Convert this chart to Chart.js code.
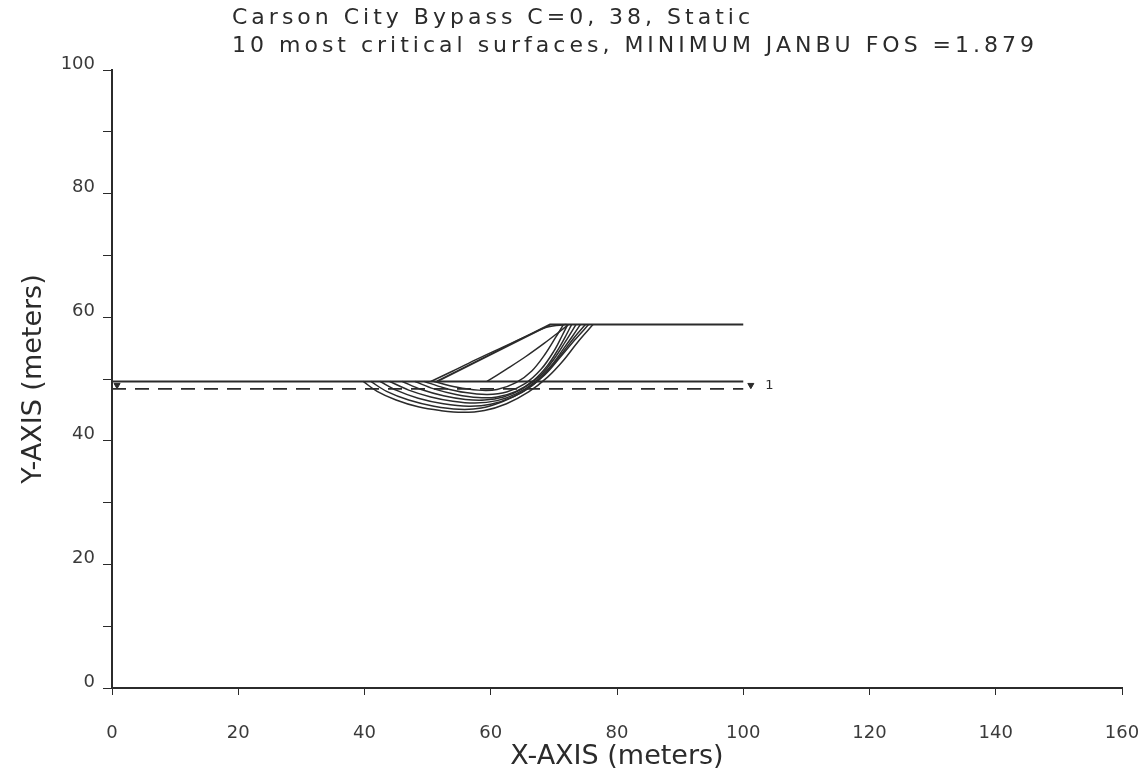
<!DOCTYPE html>
<html>
<head>
<meta charset="utf-8">
<script src="https://cdn.jsdelivr.net/npm/chart.js@4"></script>
<style>
  html, body { margin: 0; padding: 0; background: #fff; }
  #wrap { width: 1148px; height: 783px; position: relative; }
</style>
</head>
<body>
<div id="wrap"><canvas id="slopeChart"></canvas></div>
<script>
"use strict";

const titleLines = [
  "Carson City Bypass C=0, 38, Static",
  "10 most critical surfaces, MINIMUM JANBU FOS =1.879"
];
const xTitle = "X-AXIS (meters)";
const yTitle = "Y-AXIS (meters)";

// ground and embankment profile (m)
const baseLine = [[0, 49.6], [100, 49.6]];
const embankment = [[51.5, 49.6], [69.4, 58.8], [100, 58.8]];
const waterTable = [[0, 48.4], [100, 48.4]];
const waterMarkers = [[0.8, 49.0], [101.2, 49.0]];
const waterLabel = "1";

// ten most critical slip surfaces (x, y in m)
const surface1 = [[50.5, 49.6], [54, 51.3], [58, 53.3], [62, 55.2], [66, 57.1], [69, 58.4], [72, 58.8]];
const surface2 = [[59.4, 49.6], [62.5, 51.6], [65.5, 53.6], [68.5, 55.8], [70.8, 57.6], [72.3, 58.8]];
const surface3 = [[39.8, 49.6], [42, 48.0], [45, 46.6], [48.5, 45.5], [52, 44.9], [55.5, 44.6], [59, 44.9], [62.5, 46.0], [66, 47.9], [69, 50.3], [71.5, 53.0], [73.8, 56.0], [76.2, 58.8]];
const surface4 = [[41, 49.6], [43.5, 48.0], [47, 46.6], [51, 45.6], [55, 45.1], [58.5, 45.3], [62, 46.4], [65.5, 48.2], [68.5, 50.6], [71, 53.5], [73.3, 56.3], [75.5, 58.8]];
const surface5 = [[42.5, 49.6], [45, 48.2], [48.5, 46.9], [52.5, 46.0], [56.5, 45.6], [60, 45.9], [63.5, 47.1], [66.5, 48.9], [69.2, 51.5], [71.4, 54.3], [73.3, 56.8], [75, 58.8]];
const surface6 = [[44, 49.6], [47, 48.2], [50.5, 47.1], [54, 46.4], [57.5, 46.1], [61, 46.5], [64, 47.6], [67, 49.5], [69.6, 52.2], [71.6, 55.0], [73, 57.0], [74.2, 58.8]];
const surface7 = [[46, 49.6], [49, 48.3], [52.5, 47.3], [56, 46.7], [59, 46.6], [62, 47.1], [65, 48.4], [67.8, 50.5], [70, 53.2], [71.8, 56.0], [73.5, 58.8]];
const surface8 = [[48, 49.6], [51, 48.4], [54.5, 47.5], [58, 47.0], [61, 47.1], [64, 48.0], [66.8, 49.8], [69, 52.2], [70.8, 55.0], [72, 57.2], [72.8, 58.8]];
const surface9 = [[49.5, 49.6], [52.5, 48.6], [56, 47.8], [59.5, 47.5], [62.5, 47.9], [65.5, 49.3], [68, 51.6], [70, 54.5], [71.3, 57.0], [72.2, 58.8]];
const surface10 = [[51, 49.6], [54.5, 48.7], [58, 48.2], [61, 48.3], [64, 49.4], [66.5, 51.3], [68.6, 54.0], [70.2, 56.6], [71.5, 58.8]];

const surfaces = [surface1, surface2, surface3, surface4, surface5,
  surface6, surface7, surface8, surface9, surface10];

const INK = "#2b2b2b";
const FONT = "'DejaVu Sans', sans-serif";

const toPoints = (arr) => arr.map(([x, y]) => ({ x, y }));

function lineSet(arr, extra = {}) {
  return Object.assign({
    data: toPoints(arr),
    showLine: true,
    borderColor: INK,
    borderWidth: 1.6,
    pointRadius: 0,
    tension: 0,
    fill: false
  }, extra);
}

const datasets = [
  lineSet(baseLine, { borderWidth: 2 }),
  lineSet(embankment, { borderWidth: 2 }),
  lineSet(waterTable, { borderDash: [14, 9], borderWidth: 1.8 }),
  {
    data: toPoints(waterMarkers),
    showLine: false,
    pointStyle: "triangle",
    rotation: 180,
    pointRadius: 3.5,
    backgroundColor: INK,
    borderColor: INK
  }
];
surfaces.forEach((s) => datasets.push(lineSet(s, { tension: 0.35, borderWidth: 1.5 })));

const headerPlugin = {
  id: "header",
  afterDraw(chart) {
    const { ctx, chartArea, scales } = chart;
    ctx.save();
    ctx.fillStyle = INK;
    ctx.font = `22px ${FONT}`;
    ctx.letterSpacing = "4px";
    ctx.textBaseline = "middle";
    ctx.textAlign = "left";
    ctx.fillText(titleLines[0], chartArea.left + 120, 18);
    ctx.fillText(titleLines[1], chartArea.left + 120, 46);

    // water table number beside the end marker
    const last = waterTable[waterTable.length - 1];
    ctx.font = `13px ${FONT}`;
    ctx.letterSpacing = "0px";
    ctx.fillText(waterLabel, scales.x.getPixelForValue(last[0] + 3.5), scales.y.getPixelForValue(last[1] + 0.6));
    ctx.restore();
  }
};

new Chart(document.getElementById("slopeChart"), {
  type: "scatter",
  data: { datasets },
  plugins: [headerPlugin],
  options: {
    responsive: true,
    maintainAspectRatio: false,
    animation: false,
    layout: { padding: { top: 70, right: 26, left: 0, bottom: 0 } },
    plugins: {
      legend: { display: false },
      tooltip: { enabled: false },
      title: { display: false }
    },
    scales: {
      x: {
        type: "linear",
        min: 0,
        max: 160,
        afterFit(scale) {
          scale.height = 95;
          scale.paddingLeft = 0;
          scale.paddingRight = 0;
        },
        border: { display: true, color: INK, width: 2 },
        grid: { drawOnChartArea: false, tickLength: 7, color: INK, tickWidth: 1 },
        ticks: {
          stepSize: 20,
          color: "#3a3a3a",
          padding: 28,
          font: { family: FONT, size: 18 }
        },
        title: {
          display: true,
          text: xTitle,
          color: INK,
          font: { family: FONT, size: 27 },
          padding: { top: 0, bottom: 10 }
        }
      },
      y: {
        type: "linear",
        min: 0,
        max: 100,
        afterFit(scale) {
          scale.width = 112;
          scale.paddingTop = 0;
          scale.paddingBottom = 0;
        },
        border: { display: true, color: INK, width: 2 },
        grid: {
          drawOnChartArea: false,
          tickLength: 9,
          color: INK,
          tickWidth: 1
        },
        ticks: {
          stepSize: 10,
          color: "#3a3a3a",
          padding: 8,
          labelOffset: -6,
          font: { family: FONT, size: 18 },
          callback: (v) => (v % 20 === 0 ? String(v) : "")
        },
        title: {
          display: true,
          text: yTitle,
          color: INK,
          font: { family: FONT, size: 27 },
          padding: { top: 18, bottom: 0 }
        }
      }
    }
  }
});
</script>
</body>
</html>
